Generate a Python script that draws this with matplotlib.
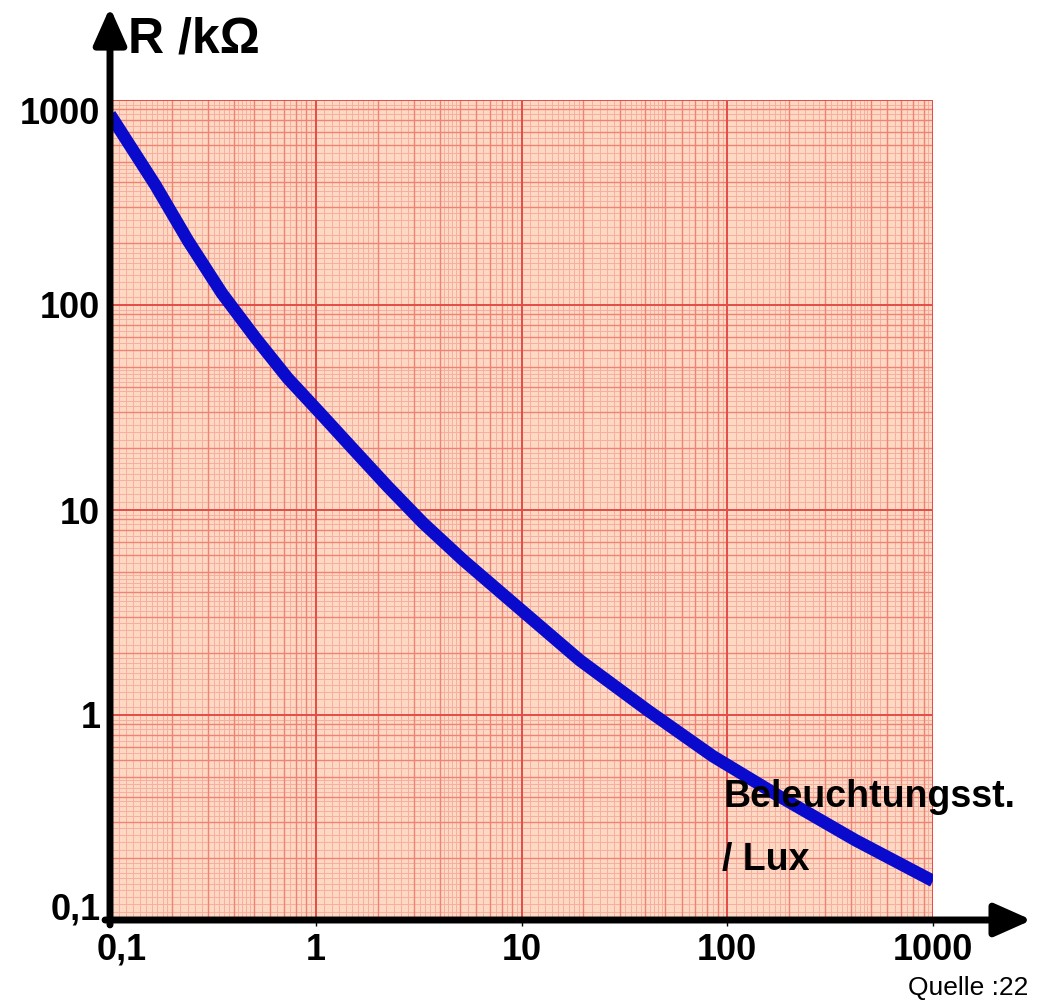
import numpy as np
import matplotlib.pyplot as plt
import matplotlib.transforms as mtransforms

# -------------------- Data --------------------
lux = [0.1, 0.166, 0.24, 0.35, 0.51, 0.73, 1.07, 1.55, 2.24, 3.32, 5.2, 9.8,
       19.2, 40.7, 85, 180, 420, 1000]
r_kohm = [850, 385, 205, 114, 69, 44, 29.1, 19.4, 13.0, 8.65, 5.7, 3.3,
          1.85, 1.06, 0.63, 0.40, 0.245, 0.155]
tick_vals = [0.1, 1, 10, 100, 1000]
tick_labels = ['0,1', '1', '10', '100', '1000']
# ---------------------------------------------------------------------

plt.rcParams['font.family'] = ['Liberation Sans', 'DejaVu Sans']

fig = plt.figure(figsize=(10.37, 10.08), dpi=100)
ax = fig.add_axes([110 / 1037, 88 / 1008, 823 / 1037, 820 / 1008])
ax.set_xscale('log')
ax.set_yscale('log')
ax.set_xlim(0.1, 1000)
ax.set_ylim(0.1, 1000)
ax.set_facecolor('#fdd9c3')


def paper_lines(lo_exp, hi_exp):
    # log paper: decades, 2..9, and finer subdivisions
    fine, minor, major = [], [], []
    for e in range(lo_exp, hi_exp):
        base = 10.0 ** e
        major.append(base)
        for m in range(2, 10):
            minor.append(m * base)
        fine += [base * v for v in np.arange(1.1, 2.0, 0.1)]
        fine += [base * v for v in np.arange(2.2, 5.0, 0.2)]
        fine += [base * v for v in np.arange(5.5, 10.0, 0.5)]
    major.append(10.0 ** hi_exp)
    return fine, minor, major


fine, minor, major = paper_lines(-1, 3)
for v in fine:
    ax.axvline(v, color='#f6ae9f', lw=0.7, zorder=1)
    ax.axhline(v, color='#f6ae9f', lw=0.7, zorder=1)
for v in minor:
    ax.axvline(v, color='#ef8275', lw=1.0, zorder=1)
    ax.axhline(v, color='#ef8275', lw=1.0, zorder=1)
for v in major:
    ax.axvline(v, color='#e34c47', lw=1.4, zorder=1)
    ax.axhline(v, color='#e34c47', lw=1.4, zorder=1)

ax.plot(lux, r_kohm, color='#0a0acd', lw=9, solid_capstyle='butt',
        solid_joinstyle='round', zorder=3)

for s in ax.spines.values():
    s.set_visible(False)

ax.set_xticks(tick_vals)
ax.set_xticklabels(tick_labels)
ax.set_yticks(tick_vals)
ax.set_yticklabels(tick_labels)
ax.minorticks_off()
ax.tick_params(axis='both', length=4, width=1, color='black', labelsize=26, pad=5)
ax.tick_params(axis='y', length=0, pad=7)
for lbl in ax.get_xticklabels() + ax.get_yticklabels():
    lbl.set_fontweight('bold')

# nudge the corner labels like in the original
ylbls = ax.get_yticklabels()
ylbls[0].set_transform(ylbls[0].get_transform() + mtransforms.ScaledTranslation(0, 14 / 100, fig.dpi_scale_trans))
ylbls[-1].set_transform(ylbls[-1].get_transform() + mtransforms.ScaledTranslation(0, -10 / 100, fig.dpi_scale_trans))
xlbls = ax.get_xticklabels()
xlbls[0].set_transform(xlbls[0].get_transform() + mtransforms.ScaledTranslation(12 / 100, 0, fig.dpi_scale_trans))

# axis arrows
arrow_kw = dict(arrowstyle='-|>,head_length=0.45,head_width=0.2', lw=5, color='black',
                mutation_scale=50, shrinkA=0, shrinkB=0)
ax.annotate('', xy=(1.12, 0), xycoords='axes fraction', xytext=(-0.006, 0),
            arrowprops=arrow_kw, annotation_clip=False, zorder=5)
ax.annotate('', xy=(0, 1.113), xycoords='axes fraction', xytext=(0, -0.006),
            arrowprops=arrow_kw, annotation_clip=False, zorder=5)

fig.text(128 / 1037, 1 - 40 / 1008, 'R /kΩ', fontsize=36, fontweight='bold', va='center', ha='left')
fig.text(724 / 1037, 1 - 797 / 1008, 'Beleuchtungsst.', fontsize=27, fontweight='bold',
         va='center', ha='left', zorder=6)
fig.text(722 / 1037, 1 - 860 / 1008, '/ Lux', fontsize=27, fontweight='bold', va='center', ha='left',
         zorder=6)
fig.text(1028 / 1037, 1 - 988 / 1008, 'Quelle :22', fontsize=19, va='center', ha='right')

fig.savefig('out.png', dpi=100)
